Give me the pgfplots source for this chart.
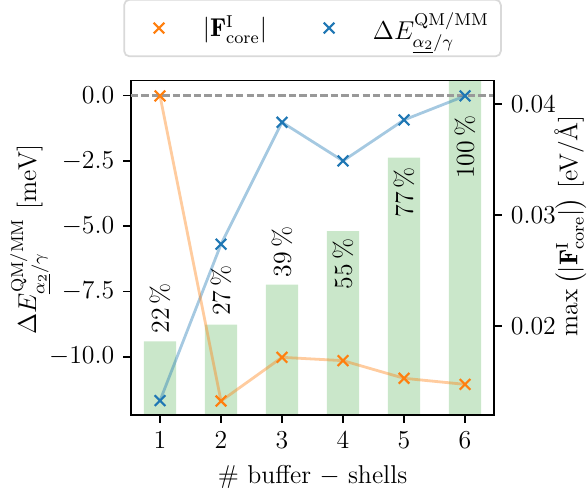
\documentclass[border=0pt]{standalone}
\usepackage{amsmath}
\usepackage{fontspec}
\usepackage{pgfplots}
\pgfplotsset{compat=1.18}
\definecolor{tabblue}{HTML}{1F77B4}
\definecolor{taborange}{HTML}{FF7F0E}
\definecolor{barfill}{RGB}{202,231,202}
\begin{document}
\large
\begin{tikzpicture}[font=\large]
\path[use as bounding box] (-60.8pt,-33.5pt) rectangle (212.2pt,193pt);
\pgfplotsset{
  every axis/.append style={width=169.1pt,height=155.5pt,scale only axis,
    xmin=0.52,xmax=6.48,at={(0,0)},anchor=south west, font=\large},
  mk/.style={only marks, mark=x, mark size=3.5pt, line width=1pt},
}
% bars (percentage)
\begin{axis}[hide axis, ymin=0, ymax=100, clip=false]
\addplot[ybar, bar width=0.53, bar shift=0pt, fill=barfill, draw=none]
  coordinates {(1,22)(2,27)(3,39)(4,55)(5,77)(6,100)};
\node[rotate=90] at (axis cs:1,31.9) {22\,\%};
\node[rotate=90] at (axis cs:2,37.2) {27\,\%};
\node[rotate=90] at (axis cs:3,48.8) {39\,\%};
\node[rotate=90] at (axis cs:4,45.2) {55\,\%};
\node[rotate=90] at (axis cs:5,66.6) {77\,\%};
\node[rotate=90] at (axis cs:6,80.1) {100\,\%};
\end{axis}
% left axis: Delta E
\begin{axis}[ymin=-12.23, ymax=0.575,
  xtick={1,2,3,4,5,6}, ytick={-10,-7.5,-5,-2.5,0},
  xtick pos=bottom, ytick pos=left, tick align=outside,
  axis line style={line width=0.8pt},
  major tick style={line width=0.8pt, black},
  major tick length=3.5pt,
  yticklabel style={/pgf/number format/.cd,fixed,fixed zerofill,precision=1},
  xlabel={\# buffer $-$ shells},
  ylabel={$\Delta E^{\mathrm{QM/MM}}_{\underline{\alpha_2}/\gamma}$ $[\mathrm{meV}]$},
  ylabel style={at={(axis description cs:-0.276,0.525)}, anchor=center},
]
\addplot[black!40, line width=1.4pt, dash pattern=on 3.4pt off 1.5pt] coordinates {(0.52,0)(6.48,0)};
\addplot[tabblue, opacity=0.4, line width=1.3pt] coordinates {(1,-11.68)(2,-5.69)(3,-1.02)(4,-2.50)(5,-0.93)(6,-0.01)};
\addplot[mk, tabblue] coordinates {(1,-11.68)(2,-5.69)(3,-1.02)(4,-2.50)(5,-0.93)(6,-0.01)};
\end{axis}
% right axis: max force
\begin{axis}[axis x line=none, axis y line*=right,
  ymin=0.01197, ymax=0.04213, ytick={0.02,0.03,0.04},
  scaled y ticks=false, tick align=outside,
  axis line style={line width=0.8pt},
  major tick style={line width=0.8pt, black},
  major tick length=3.5pt,
  yticklabel style={/pgf/number format/.cd,fixed,fixed zerofill,precision=2},
  ylabel={$\max\left(|\mathbf{F}^{\mathrm{I}}_{\mathrm{core}}|\right)$ [eV/\AA]},
  ylabel style={at={(axis description cs:1.209,0.566)}, anchor=center},
  legend columns=2,
  legend image code/.code={\path (0pt,0pt) (30pt,0pt);\draw[#1, mark repeat=2, mark phase=2] plot coordinates {(0pt,0pt)(10.1pt,0pt)(12pt,0pt)};},
  legend style={at={(0.5,1.07)}, anchor=south, draw=black!15, line width=0.8pt,
    rounded corners=2.5pt, fill=white, inner xsep=5.6pt, inner ysep=6.2pt,
    nodes={inner sep=0pt},
    /tikz/every even column/.append style={column sep=18.3pt}},
]
\addlegendimage{mk, taborange}
\addlegendentry{$|\mathbf{F}^{\mathrm{I}}_{\mathrm{core}}|$}
\addlegendimage{mk, tabblue}
\addlegendentry{$\Delta E^{\mathrm{QM/MM}}_{\underline{\alpha_2}/\gamma}$}
\addplot[taborange, opacity=0.4, line width=1.3pt, forget plot] coordinates {(1,0.04075)(2,0.01323)(3,0.01717)(4,0.01687)(5,0.01528)(6,0.01473)};
\addplot[mk, taborange, forget plot] coordinates {(1,0.04075)(2,0.01323)(3,0.01717)(4,0.01687)(5,0.01528)(6,0.01473)};
\end{axis}
\end{tikzpicture}
\end{document}
